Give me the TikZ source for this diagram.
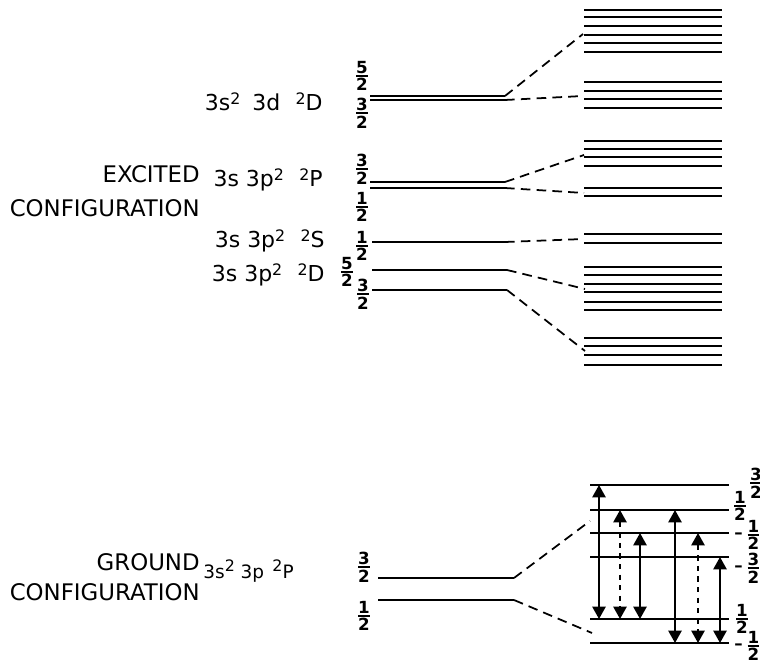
\documentclass[tikz,border=0pt]{standalone}
\usepackage{fontspec}
\setmainfont{DejaVu Sans}
\usetikzlibrary{arrows.meta}
\newcommand{\fr}[2]{$\vcenter{\offinterlineskip\halign{\hfil##\hfil\cr #1\cr\noalign{\kern1pt\hrule height0.9pt\kern1pt}#2\cr}}$}
\newcommand{\up}[1]{\raisebox{3.6pt}{\fontsize{9}{10}\selectfont #1}}

\begin{document}
\begin{tikzpicture}[x=0.02cm,y=-0.02cm]
\tikzstyle{level}=[line width=1.3pt]
\tikzstyle{link}=[line width=1pt, dash pattern=on 5.5pt off 3.5pt]
\tikzstyle{trans}=[line width=1pt, {Triangle[length=7pt,width=7.5pt]}-{Triangle[length=7pt,width=7.5pt]}]
\tikzstyle{lbl}=[inner sep=0pt, anchor=east, font=\fontsize{13}{15}\selectfont]
\tikzstyle{term}=[inner sep=0pt, anchor=east, font=\fontsize{12.5}{14}\selectfont]
\tikzstyle{frac}=[inner sep=0pt, font=\fontsize{9.5}{10}\selectfont\bfseries]
\useasboundingbox (0,0) rectangle (760,661);
% unsplit levels
\foreach \n/\y/\a/\b in {dA/96/370/505,dB/100/370/505,pA/182/370/505,pB/188/370/505,sA/242/372/505,
  tA/270/372/507,tB/290/372/507,gA/578/378/514,gB/600/378/514}{
  \draw[level] (\a,\y) -- (\b,\y) coordinate (\n);}
% Zeeman components
\foreach \y in {10,17,26,35,43,52,82,91,99,108,141,149,157,166,188,196,234,243,267,275,284,292,302,310,338,346,355,365}
  \draw[level] (584,\y) -- (722,\y);
\foreach \n/\y in {L1/485,L2/510,L3/533,L4/557,L5/619,L6/643}
  \draw[level] (590,\y) -- (729,\y) coordinate (\n);
% group centres
\coordinate (zdA) at (583,34);
\coordinate (zdB) at (583,96);
\coordinate (zpA) at (584,155);
\coordinate (zpB) at (584,193);
\coordinate (zsA) at (584,239);
\coordinate (ztA) at (585,289);
\coordinate (ztB) at (585,351);
\coordinate (zgA) at (590,521);
\coordinate (zgB) at (592,633);
\foreach \i/\j in {dA/zdA,dB/zdB,pA/zpA,pB/zpB,sA/zsA,tA/ztA,tB/ztB,gA/zgA,gB/zgB}{\draw[link] (\i) -- (\j);}
% transitions
\foreach \x/\i/\j/\s in {599/L1/L5/solid,620/L2/L5/dashed,640/L3/L5/solid,675/L2/L6/solid,698/L3/L6/dashed,720/L4/L6/solid}
  \draw[trans,\s] (\x,0 |- \i) -- (\x,0 |- \j);
% term labels
\node[term] (termD) at (323,102) {3s\up{2}\hspace{0.55em}3d\hspace{0.7em}\up{2}D};
\node[term] (termP) at (323,180) {3s 3p\up{2}\hspace{0.7em}\up{2}P};
\node[term] (termS) at (325,241) {3s 3p\up{2}\hspace{0.7em}\up{2}S};
\node[term] (termT) at (325,275) {3s 3p\up{2}\hspace{0.7em}\up{2}D};
\node[term, font=\fontsize{10.5}{12}\selectfont] (termG) at (294,571) {3s\up{2} 3p\hspace{0.45em}\up{2}P};
\node[lbl] (exc) at (200,174) {EXCITED};
\node[lbl] (excC) at (200,208) {CONFIGURATION};
\node[lbl] (gnd) at (200,562) {GROUND};
\node[lbl] (gndC) at (200,592) {CONFIGURATION};
% J values
\foreach \n/\x/\y/\p in {jdA/362/76/5,jdB/362/113/3,jpA/362/169/3,jpB/362/207/1,jsA/362/246/1,
  jtA/347/272/5,jtB/363/294/3,jgA/364/567/3,jgB/364/616/1,mA/756/483/3,mB/740/506/1,mE/742/619/1}
  \node[frac] (\n) at (\x,\y) {\fr{\p}{2}};
\foreach \n/\y/\p in {mC/535/1,mD/568/3,mF/646/1}
  \node[frac, anchor=west] (\n) at (734,\y) {--\hspace{0.3em}\fr{\p}{2}};
\end{tikzpicture}
\end{document}
